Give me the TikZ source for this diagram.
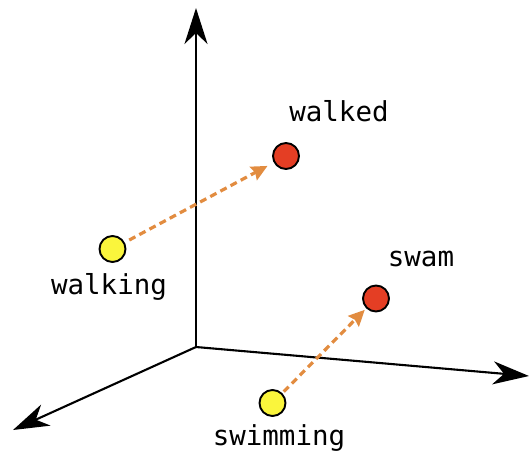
\documentclass[tikz,border=0pt]{standalone}
\usepackage{fontspec}
\setmonofont{DejaVu Sans Mono}
\usetikzlibrary{arrows.meta}
\definecolor{dotyellow}{RGB}{250,245,60}
\definecolor{dotred}{RGB}{228,62,36}
\definecolor{dashorange}{RGB}{226,140,64}
\tikzset{
  axis/.style={line width=2.1pt, -{Stealth[length=36pt, width=23pt, inset=11pt]}},
  dot/.style={circle, draw=black, line width=1.9pt, minimum size=26pt, inner sep=0pt},
  ydot/.style={dot, fill=dotyellow},
  rdot/.style={dot, fill=dotred},
  word/.style={font=\ttfamily\fontsize{27.5}{32}\selectfont, inner sep=0pt},
  moveline/.style={line width=3.2pt, dashorange, dash pattern=on 7pt off 4.5pt, -{Stealth[length=16pt, width=15pt, inset=2pt]}}
}
\begin{document}
\begin{tikzpicture}[x=1pt, y=-1pt]
\useasboundingbox (0,0) rectangle (531,451);
\coordinate (O) at (196,347);
\coordinate (Yt) at (196,8);
\coordinate (Xt) at (529,376);
\coordinate (Zt) at (13,430);
\draw[axis] (O) -- (Yt);
\draw[axis] (O) -- (Xt);
\draw[axis] (O) -- (Zt);
\node[ydot] (walking) at (112.5,249) {};
\node[rdot] (walked) at (286,156) {};
\node[rdot] (swam) at (376,298.5) {};
\node[ydot] (swimming) at (272.5,403) {};
\node[word] (lwalked) at (339,111) {walked};
\node[word] (lwalking) at (109,287) {walking};
\node[word] (lswam) at (421,259) {swam};
\node[word] (lswimming) at (279,438) {swimming};
\draw[moveline, shorten <=5pt, shorten >=7pt] (walking) -- (walked);
\draw[moveline, shorten <=2pt, shorten >=2pt] (swimming) -- (swam);
\end{tikzpicture}
\end{document}
